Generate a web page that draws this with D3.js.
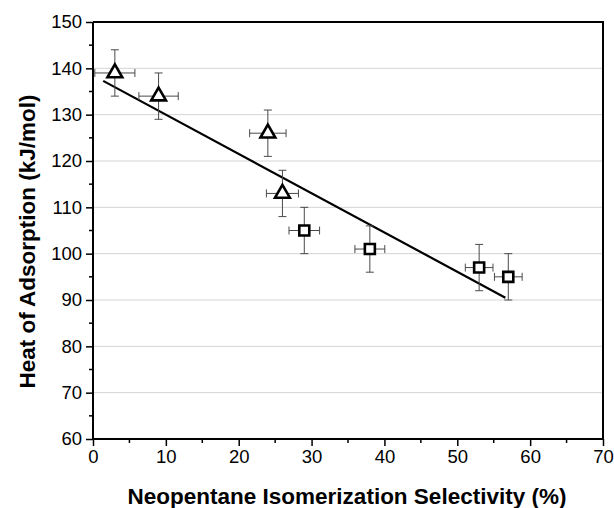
<!DOCTYPE html>
<html>
<head>
<meta charset="utf-8">
<script src="https://cdn.jsdelivr.net/npm/d3@7"></script>
<style>
  html, body { margin: 0; padding: 0; background: #fff; }
  svg { display: block; font-family: "Liberation Sans", Arial, sans-serif; }
</style>
</head>
<body>
<svg id="chart" width="614" height="508"></svg>
<script>
// Neopentane isomerization selectivity vs heat of adsorption
const triSelectivity = [3, 9, 24, 26];
const triHeat = [139, 134, 126, 113];
const triErrX = [2.75, 2.7, 2.5, 2.2];
const triErrY = [5, 5, 5, 5];

const sqSelectivity = [29, 38, 53, 57];
const sqHeat = [105, 101, 97, 95];
const sqErrX = [2.1, 2.05, 1.9, 1.9];
const sqErrY = [5, 5, 5, 5];

// linear fit through all points (end points)
const fitX = [1.4, 56.6];
const fitY = [137.3, 90.5];

const xTicks = [0, 10, 20, 30, 40, 50, 60, 70];
const yTicks = [60, 70, 80, 90, 100, 110, 120, 130, 140, 150];
const xLabel = "Neopentane Isomerization Selectivity (%)";
const yLabel = "Heat of Adsorption (kJ/mol)";

const W = 614, H = 508;
const m = { left: 93, right: 11, top: 22, bottom: 69 };
const svg = d3.select("#chart");

const x = d3.scaleLinear().domain([0, 70]).range([m.left, W - m.right]);
const y = d3.scaleLinear().domain([60, 150]).range([H - m.bottom, m.top]);

// horizontal grid
svg.append("g").selectAll("line")
  .data(yTicks.filter(v => v > 60 && v < 150))
  .join("line")
  .attr("x1", x(0)).attr("x2", x(70))
  .attr("y1", d => y(d)).attr("y2", d => y(d))
  .attr("stroke", "#d4d4d4").attr("stroke-width", 1);

// minor ticks
const xMinor = d3.range(5, 70, 10);
const yMinor = d3.range(65, 150, 10);
svg.append("g").selectAll("line").data(xMinor).join("line")
  .attr("x1", d => x(d)).attr("x2", d => x(d))
  .attr("y1", y(60)).attr("y2", y(60) + 4)
  .attr("stroke", "#000").attr("stroke-width", 1.5);
svg.append("g").selectAll("line").data(yMinor).join("line")
  .attr("x1", x(0) - 4).attr("x2", x(0))
  .attr("y1", d => y(d)).attr("y2", d => y(d))
  .attr("stroke", "#000").attr("stroke-width", 1.5);

// axes
const xAxis = svg.append("g")
  .attr("transform", `translate(0,${y(60)})`)
  .call(d3.axisBottom(x).tickValues(xTicks).tickSize(7).tickPadding(4).tickFormat(d3.format("d")));
const yAxis = svg.append("g")
  .attr("transform", `translate(${x(0)},0)`)
  .call(d3.axisLeft(y).tickValues(yTicks).tickSize(7).tickPadding(4).tickFormat(d3.format("d")));
[xAxis, yAxis].forEach(g => {
  g.select(".domain").attr("stroke", "#000").attr("stroke-width", 2);
  g.selectAll(".tick line").attr("stroke", "#000").attr("stroke-width", 1.5);
  g.selectAll(".tick text").attr("fill", "#000")
    .style("font-family", "'Liberation Sans', Arial, sans-serif").style("font-size", "18.5px");
});
// remove outer end ticks of domain path
xAxis.select(".domain").attr("d", `M${x(0)},0H${x(70)}`);
yAxis.select(".domain").attr("d", `M0,${y(60)}V${y(150)}`);

// frame top/right
svg.append("path")
  .attr("d", `M${x(0)},${y(150)}H${x(70)}V${y(60)}`)
  .attr("fill", "none").attr("stroke", "#000").attr("stroke-width", 2);

// axis titles
svg.append("text")
  .attr("x", (x(0) + x(70)) / 2 - 1).attr("y", 504)
  .attr("text-anchor", "middle")
  .style("font-weight", "bold").style("font-size", "22.5px")
  .text(xLabel);
svg.append("text")
  .attr("transform", `translate(35,${(y(60) + y(150)) / 2 + 11}) rotate(-90)`)
  .attr("text-anchor", "middle")
  .style("font-weight", "bold").style("font-size", "22.5px")
  .text(yLabel);

// fit line
svg.append("line")
  .attr("x1", x(fitX[0])).attr("y1", y(fitY[0]))
  .attr("x2", x(fitX[1])).attr("y2", y(fitY[1]))
  .attr("stroke", "#000").attr("stroke-width", 2.2);

// error bars + markers
function drawSeries(xs, ys, ex, ey, symbol, size) {
  const pts = xs.map((v, i) => ({ x: v, y: ys[i], ex: ex[i], ey: ey[i] }));
  const g = svg.append("g");
  const eb = g.append("g").attr("stroke", "#4a4a4a").attr("stroke-width", 1).attr("fill", "none");
  const cap = 4;
  pts.forEach(p => {
    eb.append("line").attr("x1", x(p.x)).attr("x2", x(p.x)).attr("y1", y(p.y + p.ey)).attr("y2", y(p.y - p.ey));
    eb.append("line").attr("x1", x(p.x) - cap).attr("x2", x(p.x) + cap).attr("y1", y(p.y + p.ey)).attr("y2", y(p.y + p.ey));
    eb.append("line").attr("x1", x(p.x) - cap).attr("x2", x(p.x) + cap).attr("y1", y(p.y - p.ey)).attr("y2", y(p.y - p.ey));
    eb.append("line").attr("x1", x(p.x - p.ex)).attr("x2", x(p.x + p.ex)).attr("y1", y(p.y)).attr("y2", y(p.y));
    eb.append("line").attr("x1", x(p.x - p.ex)).attr("x2", x(p.x - p.ex)).attr("y1", y(p.y) - cap).attr("y2", y(p.y) + cap);
    eb.append("line").attr("x1", x(p.x + p.ex)).attr("x2", x(p.x + p.ex)).attr("y1", y(p.y) - cap).attr("y2", y(p.y) + cap);
  });
  g.selectAll("path.mk").data(pts).join("path")
    .attr("class", "mk")
    .attr("d", d3.symbol().type(symbol).size(size))
    .attr("transform", d => `translate(${x(d.x)},${y(d.y)})`)
    .attr("fill", "#fff").attr("stroke", "#000").attr("stroke-width", 2.6);
}
drawSeries(triSelectivity, triHeat, triErrX, triErrY, d3.symbolTriangle, 95);
drawSeries(sqSelectivity, sqHeat, sqErrX, sqErrY, d3.symbolSquare, 100);
</script>
</body>
</html>
